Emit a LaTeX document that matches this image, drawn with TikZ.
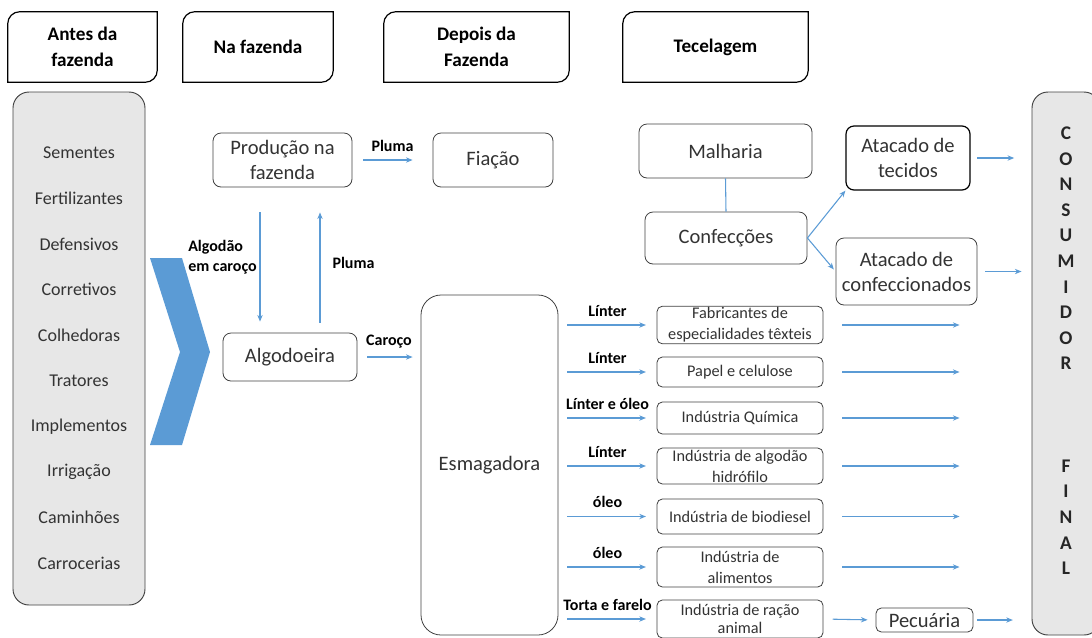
\documentclass[tikz,border=0pt]{standalone}
\usepackage{fontspec}
\setmainfont{Carlito}
\usepackage{xcolor}
\definecolor{flowblue}{RGB}{91,155,213}
\definecolor{panelgrey}{RGB}{231,231,231}
\definecolor{inkgrey}{RGB}{64,64,64}
\usetikzlibrary{positioning,arrows.meta}
% moldura das fases: cantos arredondados em cima a esquerda e em baixo a direita
\newcommand{\phaseframe}[1]{%
  \draw[line width=0.9pt] (#1.north east) -- ([yshift=9pt]#1.south east)
    .. controls ([yshift=4pt]#1.south east) and ([xshift=-4pt]#1.south east) .. ([xshift=-9pt]#1.south east)
    -- (#1.south west) -- ([yshift=-9pt]#1.north west)
    .. controls ([yshift=-4pt]#1.north west) and ([xshift=4pt]#1.north west) .. ([xshift=9pt]#1.north west) -- cycle;}

\begin{document}
\begin{tikzpicture}[x=0.75pt, y=-0.75pt, >={Stealth[length=5pt,width=4pt]}]
\tikzset{
  phase/.style={minimum height=52.5pt, inner sep=1pt, align=center, font=\bfseries\fontsize{14.4}{19.5}\selectfont},
  stage/.style={draw=inkgrey, line width=0.6pt, rounded corners=6pt, inner sep=1pt, align=center, text=black!80, font=\fontsize{15.4}{18.75}\selectfont},
  outlet/.style={draw=inkgrey, line width=0.6pt, rounded corners=4pt, minimum width=124.5pt, inner sep=1pt, align=center, text=black!80, font=\fontsize{12.2}{15.75}\selectfont},
  panel/.style={draw=inkgrey, fill=panelgrey, line width=0.7pt, rounded corners=12pt},
  input/.style={font=\fontsize{13.5}{16}\selectfont, text=black!80},
  tag/.style={font=\bfseries\fontsize{12}{15}\selectfont, inner sep=1pt},
  flow/.style={->, draw=flowblue, line width=0.8pt}
}
\useasboundingbox (0,0) rectangle (1092,637);

% fases
\node[phase, minimum width=111.75pt] (antes)  at (82.5,47)  {Antes da\\fazenda};
\node[phase, minimum width=112.5pt]  (nafaz)  at (258,47)   {Na fazenda};
\node[phase, minimum width=138.75pt] (depois) at (476.5,47) {Depois da\\Fazenda};
\node[phase, minimum width=138.75pt] (tecel)  at (715.5,47) {Tecelagem};
\foreach \n in {antes,nafaz,depois,tecel} {\phaseframe{\n}}

% insumos
\node[panel, minimum width=99pt, minimum height=384.75pt] (insumos) at (79,348.5) {};
\foreach \txt [count=\i] in {Sementes,Fertilizantes,Defensivos,Corretivos,Colhedoras,Tratores,Implementos,Irrigação,Caminhões,Carrocerias}
  \node[input] (ins\i) at (79,{153+45.6*(\i-1)}) {\txt};
\fill[flowblue] (150,258) -- (182,258) -- (210,352) -- (182,445) -- (150,445) -- (180,352) -- cycle;

% na fazenda / depois da fazenda
\node[stage, minimum width=104.25pt, minimum height=40.5pt] (prod)   at (282.5,160) {Produção na\\fazenda};
\node[stage, minimum width=90pt,     minimum height=40.5pt] (fiacao) at (493,160)   {Fiação};
\node[stage, minimum width=100.5pt,  minimum height=36pt]   (algod)  at (290,357)   {Algodoeira};
\node[stage, minimum width=102.75pt, minimum height=255pt, rounded corners=15pt] (esmag) at (489.5,465) {Esmagadora};

% tecelagem
\node[stage, minimum width=129.75pt, minimum height=40.5pt] (malh)   at (725.5,151)   {Malharia};
\node[stage, minimum width=121.5pt,  minimum height=39pt]   (confec) at (726,238)     {Confecções};
\node[stage, draw=black, line width=0.9pt, minimum width=93pt, minimum height=48pt] (attec) at (908,158) {Atacado de\\tecidos};
\node[stage, minimum width=105.75pt, minimum height=50.25pt] (atconf) at (906.5,271.5) {Atacado de\\confeccionados};
\node[stage, rounded corners=4pt, minimum width=72.75pt, minimum height=18pt] (pecu) at (924.5,620) {Pecuária};

% consumidor final
\node[panel, minimum width=51pt, minimum height=407.25pt, align=center, text=black!85,
  font=\bfseries\fontsize{14.5}{19.2}\selectfont] (consum) at (1066,363.5)
  {C\\O\\N\\S\\U\\M\\I\\D\\O\\R\\~\\~\\~\\F\\I\\N\\A\\L\\~};

% subprodutos da esmagadora
\foreach \nm/\yc/\hh/\lbl/\txt in {
    fabr/325/27/L\'{\i}nter/{Fabricantes de\\especialidades têxteis},
    papel/372/22.5/L\'{\i}nter/{Papel e celulose},
    quim/418/24/{L\'{\i}nter e óleo}/{Indústria Química},
    hidro/466/27/L\'{\i}nter/{Indústria de algodão\\hidrófilo},
    biod/516.5/26.25/óleo/{Indústria de biodiesel},
    alim/567/30/óleo/{Indústria de\\alimentos},
    racao/619/28.5/{Torta e farelo}/{Indústria de ração\\[-2pt]animal}} {
  \node[outlet, minimum height=\hh pt] (\nm) at (740,\yc) {\txt};
  \draw[flow, shorten <=6.75pt, shorten >=8pt] (\nm.west -| esmag.east) -- node[tag, above=5pt] {\lbl} (\nm.west);
}
\foreach \nm in {fabr,papel,quim,hidro,biod,alim}
  \draw[flow, shorten <=14pt, shorten >=54pt] (\nm.east) -- (\nm.east -| consum.west);

% fluxos
\coordinate (dn) at ([xshift=-22.5pt]algod.north);
\coordinate (up) at ([xshift=22.5pt]algod.north);
\draw[flow, shorten <=8pt, shorten >=15pt] (prod.east) -- node[tag, above=5pt] {Pluma} (fiacao.west);
\draw[flow, shorten <=18.75pt, shorten >=8.25pt] (dn |- prod.south) -- node[tag, pos=0.48, left=1pt, align=left] {Algodão\\em caroço} (dn);
\draw[flow, shorten <=7.5pt, shorten >=18.75pt] (up) -- node[tag, pos=0.48, right=8pt] {Pluma} (up |- prod.south);
\draw[flow, shorten <=7.5pt, shorten >=6pt] (algod.east) -- node[tag, above=5pt] {Caroço} (algod.east -| esmag.west);
\draw[draw=flowblue, line width=0.8pt] (malh.south) -- (confec.north);
\draw[flow] (confec.east) -- (attec.south west);
\draw[flow, shorten >=2pt] (confec.east) -- (atconf.west);
\draw[flow, shorten <=5pt, shorten >=13pt] (attec.east) -- (attec.east -| consum.west);
\draw[flow, shorten <=6pt, shorten >=7.5pt] (atconf.east) -- (atconf.east -| consum.west);
\draw[flow, shorten <=7pt, shorten >=6pt] (racao.east) -- (pecu.west);
\draw[flow, shorten <=3pt, shorten >=14pt] (pecu.east) -- (pecu.east -| consum.west);
\end{tikzpicture}
\end{document}
